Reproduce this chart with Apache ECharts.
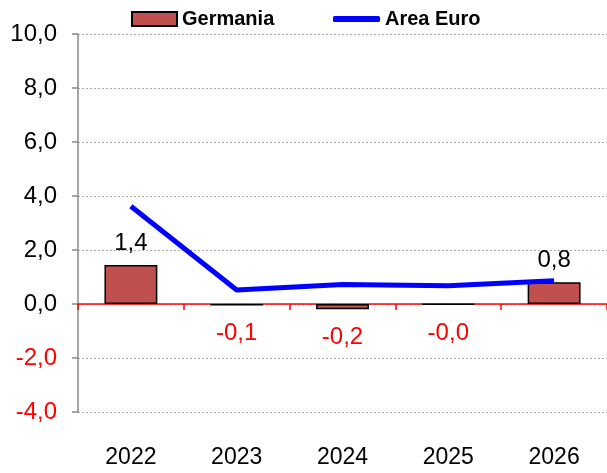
<!DOCTYPE html>
<html>
<head>
<meta charset="utf-8">
<script src="https://cdn.jsdelivr.net/npm/echarts@6/dist/echarts.min.js"></script>
<style>
  html, body { margin: 0; padding: 0; background: #fff; }
  #chart { width: 607px; height: 473px; }
</style>
</head>
<body>
<div id="chart"></div>
<script>
const years = ["2022", "2023", "2024", "2025", "2026"];
const germania = [1.44, -0.06, -0.19, -0.02, 0.81];
const areaEuro = [3.62, 0.52, 0.72, 0.68, 0.86];

const fmt = (v) => v.toFixed(1).replace(".", ",");
const font = "'Liberation Sans', Arial, sans-serif";
const legendText = { fontSize: 20, fontWeight: "bold", color: "#000", fontFamily: font };

const chart = echarts.init(document.getElementById("chart"));
chart.setOption({
  animation: false,
  textStyle: { fontFamily: font },
  legend: [
    {
      left: 126,
      top: 4,
      itemWidth: 45,
      itemHeight: 14,
      textStyle: legendText,
      data: [{ name: "Germania", icon: "rect" }],
    },
    {
      left: 328,
      top: 4,
      itemWidth: 47,
      itemHeight: 6,
      textStyle: legendText,
      data: [{ name: "Area Euro", icon: "roundRect" }],
    },
  ],
  grid: { left: 78, top: 34, width: 533, height: 378 },
  xAxis: [
    {
      type: "category",
      data: years,
      axisLine: { onZero: true, lineStyle: { color: "#ff0000", width: 1.5 } },
      axisTick: { show: true, length: 6, lineStyle: { color: "#ff0000", width: 1.5 } },
      axisLabel: { show: false },
      splitLine: { show: false },
    },
    {
      type: "category",
      data: years,
      position: "bottom",
      axisLine: { show: false, onZero: false },
      axisTick: { show: false },
      axisLabel: { margin: 34, fontSize: 23, color: "#000", fontFamily: font },
    },
  ],
  yAxis: {
    type: "value",
    min: -4,
    max: 10,
    interval: 2,
    axisLine: { show: true, lineStyle: { color: "#888", width: 1.5 } },
    axisTick: { show: true, length: 6, lineStyle: { color: "#888", width: 1.5 } },
    axisLabel: {
      margin: 21,
      fontSize: 24,
      fontFamily: font,
      formatter: (v) => fmt(v),
      color: (v) => (Number(v) < 0 ? "#ff0000" : "#000"),
    },
    splitLine: { lineStyle: { color: "#aaa", type: [2, 2], width: 1 } },
  },
  series: [
    {
      name: "Germania",
      type: "bar",
      xAxisIndex: 0,
      // negative values get a red label under the bar
      data: germania.map((v) =>
        v < 0
          ? { value: v, label: { position: "bottom", distance: 16, color: "#ff0000" } }
          : v
      ),
      barWidth: "50%",
      itemStyle: { color: "#C0504D", borderColor: "#000", borderWidth: 1.5 },
      label: {
        show: true,
        fontSize: 24,
        fontFamily: font,
        formatter: (p) => fmt(p.value),
        position: "top",
        distance: 10,
        color: "#000",
      },
    },
    {
      name: "Area Euro",
      type: "line",
      xAxisIndex: 0,
      data: areaEuro,
      symbol: "none",
      lineStyle: { color: "#0000ff", width: 5 },
      itemStyle: { color: "#0000ff" },
      z: 5,
    },
  ],
});
</script>
</body>
</html>
